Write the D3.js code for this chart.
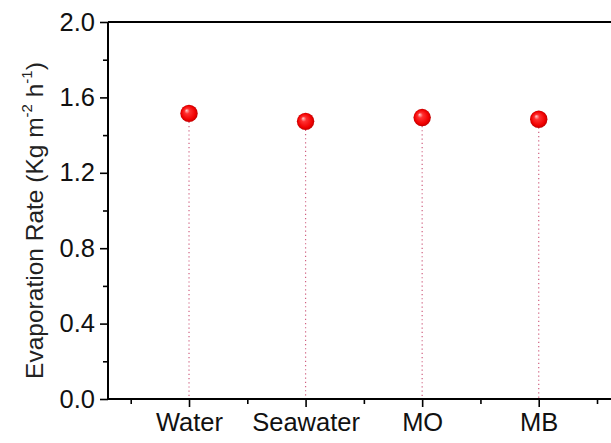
<!DOCTYPE html>
<html><head><meta charset="utf-8">
<script src="https://cdn.jsdelivr.net/npm/d3@7"></script>
<style>body{margin:0;background:#fff}svg{display:block}</style>
</head><body>
<script>
const categories = ["Water", "Seawater", "MO", "MB"];
const values = [1.515, 1.473, 1.493, 1.484];
const yTicks = [0.0, 0.4, 0.8, 1.2, 1.6, 2.0];
const yMinorTicks = [0.2, 0.6, 1.0, 1.4, 1.8];
const xMinorTicks = [0.5, 1.5, 2.5, 3.5, 4.5];

const W = 611, H = 443;
const m = {left: 108, top: 22, bottom: 44};
const svg = d3.select("body").append("svg").attr("width", W).attr("height", H);

const x = d3.scaleLinear().domain([0.305, 4.62]).range([m.left, W]);
const y = d3.scaleLinear().domain([0, 2]).range([H - m.bottom - 0, m.top]);

const defs = svg.append("defs");
const g = defs.append("radialGradient").attr("id", "ball").attr("cx", "50%").attr("cy", "50%").attr("r", "50%")
  .attr("fx", "35%").attr("fy", "32%");
g.append("stop").attr("offset", "0%").attr("stop-color", "#ffd0d0");
g.append("stop").attr("offset", "30%").attr("stop-color", "#ff3030");
g.append("stop").attr("offset", "80%").attr("stop-color", "#f00000");
g.append("stop").attr("offset", "100%").attr("stop-color", "#c00000");

const font = "'Liberation Sans', Arial, sans-serif";

// stems
svg.selectAll("line.stem").data(values).join("line")
  .attr("x1", (d, i) => x(i + 1)).attr("x2", (d, i) => x(i + 1))
  .attr("y1", d => y(d)).attr("y2", y(0))
  .attr("stroke", "#d06080").attr("stroke-width", 1.2).attr("stroke-dasharray", "1.2,3");

// y axis
const yAxis = svg.append("g").attr("transform", `translate(${m.left},0)`)
  .call(d3.axisLeft(y).tickValues(yTicks).tickFormat(d3.format(".1f")).tickSize(8).tickPadding(5));
svg.append("g").attr("transform", `translate(${m.left},0)`)
  .call(d3.axisLeft(y).tickValues(yMinorTicks).tickFormat("").tickSize(5))
  .select(".domain").remove();

// x axis
const xAxis = svg.append("g").attr("transform", `translate(0,${y(0)})`)
  .call(d3.axisBottom(x).tickValues(categories.map((c, i) => i + 1)).tickFormat((d, i) => categories[i]).tickSize(8).tickPadding(6));
svg.append("g").attr("transform", `translate(0,${y(0)})`)
  .call(d3.axisBottom(x).tickValues(xMinorTicks).tickFormat("").tickSize(5))
  .select(".domain").remove();

svg.selectAll(".domain").attr("stroke", "#000").attr("stroke-width", 2);
svg.selectAll(".tick line").attr("stroke", "#000").attr("stroke-width", 1.6);
svg.selectAll(".tick text").attr("font-family", font).attr("font-size", 25.5).attr("fill", "#111");
xAxis.select(".domain").attr("d", `M${m.left},0H${W}`);
yAxis.select(".domain").attr("d", `M0,${y(2)}V${y(0)}`);

// top frame line
svg.append("line").attr("x1", m.left).attr("x2", W).attr("y1", y(2)).attr("y2", y(2))
  .attr("stroke", "#000").attr("stroke-width", 2);

// balls
svg.selectAll("circle.ball").data(values).join("circle")
  .attr("cx", (d, i) => x(i + 1)).attr("cy", d => y(d)).attr("r", 8.7)
  .attr("fill", "url(#ball)");

// y label
const lab = svg.append("text").attr("transform", `translate(43,${(m.top + y(0)) / 2 + 10}) rotate(-90)`)
  .attr("text-anchor", "middle").attr("font-family", font).attr("font-size", 24.5).attr("fill", "#222");
lab.append("tspan").text("Evaporation Rate (Kg m");
lab.append("tspan").attr("font-size", 15).attr("dy", -11).text("-2");
lab.append("tspan").attr("dy", 11).text(" h");
lab.append("tspan").attr("font-size", 15).attr("dy", -11).text("-1");
lab.append("tspan").attr("dy", 11).text(")");
</script>
</body></html>
